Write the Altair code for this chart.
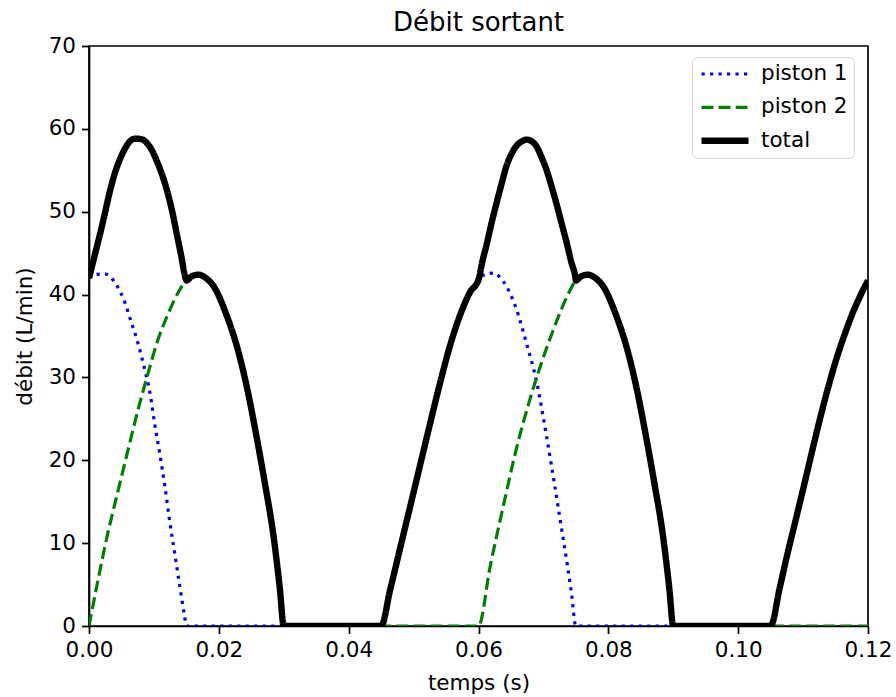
import altair as alt
import pandas as pd

# ---- data ----
series_names = ["piston 1", "piston 2", "total"]

p1_t = [0.0, 0.0009, 0.0024, 0.0042, 0.0055, 0.0065, 0.00755, 0.0086, 0.0094, 0.0101,
        0.0109, 0.0117, 0.0124, 0.0132, 0.0140, 0.0147, 0.015,
        0.045, 0.0464, 0.0479, 0.0495, 0.0510, 0.0525, 0.0541, 0.0556, 0.0572, 0.0587, 0.060,
        0.0609, 0.0623, 0.0638, 0.0659, 0.0674, 0.0690, 0.0705, 0.0720, 0.0728, 0.0736, 0.0743, 0.075,
        0.105, 0.1064, 0.1075, 0.1088, 0.110, 0.1113, 0.1126, 0.1139, 0.1152, 0.1165, 0.1177, 0.1189, 0.12]
p1_v = [42.0, 42.4, 42.5, 41.2, 39.1, 36.7, 34.1, 30.9, 28.1, 24.5,
        20.8, 16.8, 12.8, 8.8, 4.7, 1.3, 0.0,
        0.0, 4.4, 9.3, 14.5, 19.4, 24.3, 29.4, 33.8, 37.6, 40.3, 41.8,
        42.4, 42.6, 41.6, 38.1, 34.1, 29.3, 22.8, 15.7, 11.7, 7.8, 4.1, 0.0,
        0.0, 4.6, 8.4, 12.6, 16.5, 20.8, 25.0, 28.9, 32.4, 35.4, 37.9, 40.0, 41.7]

p2_t = [0.0, 0.0014, 0.0029, 0.0045, 0.0060, 0.00755, 0.0091, 0.0106, 0.0122, 0.0137, 0.015,
        0.0158, 0.0168, 0.0180, 0.0192, 0.0212, 0.0228, 0.0243, 0.0258, 0.0271, 0.0284, 0.0294, 0.030,
        0.060, 0.0618, 0.0638, 0.0659, 0.0679, 0.0695, 0.0715, 0.0736, 0.075,
        0.0758, 0.0768, 0.0780, 0.0792, 0.0812, 0.0828, 0.0843, 0.0858, 0.0871, 0.0884, 0.0894, 0.090, 0.12]
p2_v = [0.0, 5.6, 11.2, 16.4, 21.2, 26.1, 30.5, 34.5, 37.7, 40.2, 41.7,
        42.2, 42.4, 42.0, 41.0, 37.5, 33.7, 28.9, 22.9, 17.2, 11.0, 4.5, 0.0,
        0.0, 7.2, 14.4, 21.6, 27.3, 31.3, 35.7, 39.7, 41.7,
        42.2, 42.4, 42.0, 41.0, 37.5, 33.7, 28.9, 22.9, 17.2, 11.0, 4.5, 0.0, 0.0]

tot_t = [0.0, 0.0009, 0.0017, 0.0025, 0.0032, 0.0040, 0.0048, 0.0056, 0.0063, 0.0070, 0.0076,
         0.0083, 0.0089, 0.0097, 0.0104, 0.0112, 0.0120, 0.0128, 0.0135, 0.0142, 0.0148, 0.015,
         0.0158, 0.0168, 0.0180, 0.0192, 0.0212, 0.0228, 0.0243, 0.0258, 0.0271, 0.0284, 0.0294, 0.030,
         0.045, 0.0464, 0.0479, 0.0495, 0.0510, 0.0525, 0.0541, 0.0556, 0.0572, 0.0587, 0.060,
         0.0606, 0.0613, 0.0620, 0.0628, 0.0636, 0.0643, 0.0651, 0.0659, 0.0667, 0.0674, 0.0682,
         0.0690, 0.0697, 0.0705, 0.0712, 0.0720, 0.0728, 0.0736, 0.0743, 0.0749, 0.075,
         0.0758, 0.0768, 0.0780, 0.0792, 0.0812, 0.0828, 0.0843, 0.0858, 0.0871, 0.0884, 0.0894, 0.090,
         0.105, 0.1064, 0.1075, 0.1088, 0.110, 0.1113, 0.1126, 0.1139, 0.1152, 0.1165, 0.1177, 0.1189, 0.12]
tot_v = [42.0, 44.8, 47.3, 50.0, 52.4, 54.7, 56.4, 57.7, 58.5, 58.8, 58.8,
         58.7, 58.3, 57.4, 56.2, 54.6, 52.6, 50.1, 47.4, 44.7, 42.2, 41.7,
         42.2, 42.4, 42.0, 41.0, 37.5, 33.7, 28.9, 22.9, 17.2, 11.0, 4.5, 0.0,
         0.0, 4.4, 9.3, 14.5, 19.4, 24.3, 29.4, 33.8, 37.6, 40.3, 41.8,
         44.0, 46.2, 48.6, 51.1, 53.5, 55.5, 57.0, 58.0, 58.5, 58.7, 58.5,
         57.8, 56.6, 55.0, 53.2, 51.0, 48.6, 46.2, 43.9, 42.2, 41.7,
         42.2, 42.4, 42.0, 41.0, 37.5, 33.7, 28.9, 22.9, 17.2, 11.0, 4.5, 0.0,
         0.0, 4.6, 8.4, 12.6, 16.5, 20.8, 25.0, 28.9, 32.4, 35.4, 37.9, 40.0, 41.7]

x_ticks = [0.0, 0.02, 0.04, 0.06, 0.08, 0.10, 0.12]
y_ticks = [0, 10, 20, 30, 40, 50, 60, 70]

colors = ["#0000ff", "#008000", "#000000"]
dashes = [[3.2, 5.3], [11.9, 5.2], [1, 0]]
widths = [3.2, 3.2, 6.4]

rows = []
for name, ts, vs in zip(series_names, [p1_t, p2_t, tot_t], [p1_v, p2_v, tot_v]):
    for t, v in zip(ts, vs):
        rows.append({"t": t, "q": v, "serie": name})
df = pd.DataFrame(rows)

FONT = "DejaVu Sans"

chart = alt.Chart(df).mark_line(clip=True, strokeJoin="round", strokeCap="butt",
                                interpolate="monotone").encode(
    x=alt.X("t:Q", scale=alt.Scale(domain=[0, 0.12], nice=False, zero=False),
            axis=alt.Axis(title="temps (s)", values=x_ticks, format=".2f")),
    y=alt.Y("q:Q", scale=alt.Scale(domain=[0, 70], nice=False),
            axis=alt.Axis(title="débit (L/min)", values=y_ticks, format="d")),
    color=alt.Color("serie:N", scale=alt.Scale(domain=series_names, range=colors),
                    legend=alt.Legend(title=None)),
    strokeDash=alt.StrokeDash("serie:N", scale=alt.Scale(domain=series_names, range=dashes),
                              legend=alt.Legend(title=None)),
    strokeWidth=alt.StrokeWidth("serie:N", scale=alt.Scale(type="ordinal", domain=series_names, range=widths),
                                legend=alt.Legend(title=None)),
).properties(
    width=779, height=580,
    title=alt.TitleParams("Débit sortant", font=FONT, fontSize=26, fontWeight="normal",
                          color="black", anchor="middle", offset=-1),
    autosize=alt.AutoSizeParams(type="none"),
    padding={"left": 89, "top": 46, "right": 28, "bottom": 71},
    background="white",
).configure_axis(
    grid=False, domainColor="black", domainWidth=1.7, tickColor="black", tickWidth=1.7,
    tickSize=7.5, labelPadding=6, labelFont=FONT, labelFontSize=21.5, labelColor="black",
    labelFlush=False, labelOverlap=False,
    titleFont=FONT, titleFontSize=21.5, titleFontWeight="normal", titleColor="black",
).configure_axisX(titlePadding=11).configure_axisY(titlePadding=12).configure_view(
    stroke="black", strokeWidth=1.7
).configure_legend(
    orient="none", legendX=603, legendY=11, padding=6, rowPadding=11.4, clipHeight=22,
    strokeColor="#d6d6d6", cornerRadius=5, fillColor="white",
    symbolType="stroke", symbolSize=2209, labelOffset=9,
    labelFont=FONT, labelFontSize=21.5, labelColor="black", labelLimit=300,
)

chart.save("out.html", embed_options={"renderer": "svg", "actions": False})
